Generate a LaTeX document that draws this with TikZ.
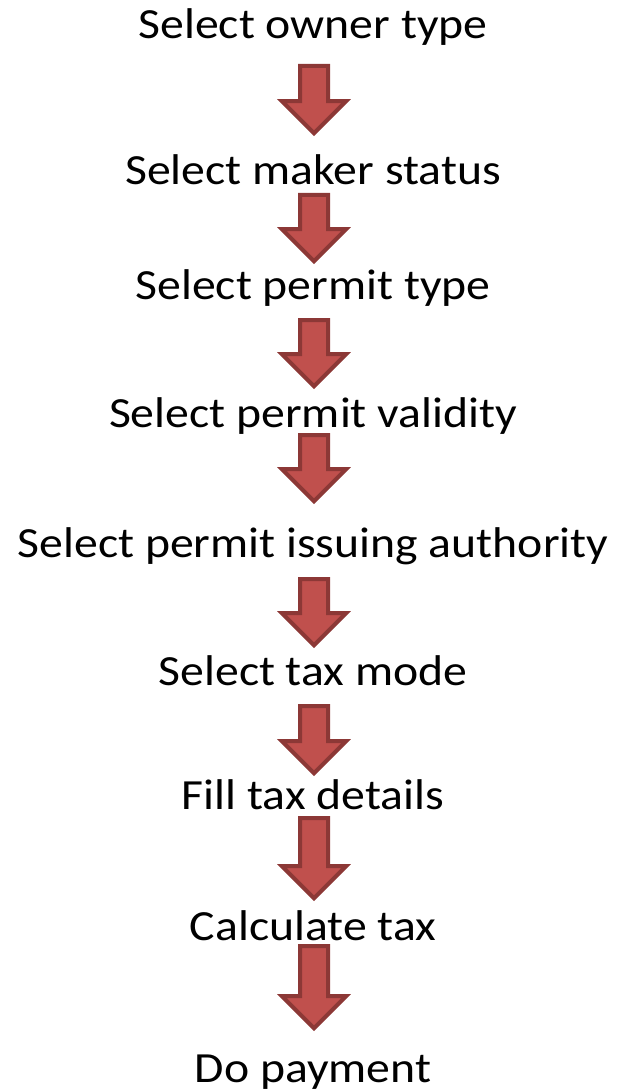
\documentclass[tikz,border=0pt]{standalone}
\usepackage{fontspec}
\setmainfont{Carlito}[FakeStretch=1.11]
\usepackage{xcolor}
\definecolor{arrowfill}{RGB}{192,80,77}
\definecolor{arrowline}{RGB}{140,56,54}

\tikzset{
	steptext/.style={anchor=base, inner sep=0pt, font=\fontsize{43}{50}\selectfont},
	downblock/.style={fill=arrowfill, draw=arrowline, line width=4pt, line join=miter}
}
% block arrow pointing down, from top y to tip y
\newcommand{\downarrowblock}[2]{%
	\draw [downblock] (300,#1+2) -- (328,#1+2) -- (328,#2-34.8) -- (346,#2-34.8) -- (314,#2-2.8) -- (282,#2-34.8) -- (300,#2-34.8) -- cycle;}

\begin{document}
\begin{tikzpicture}[x=1pt, y=-1pt]
	\useasboundingbox (0,0) rectangle (618,1091);
	\node [steptext] (owner)      at (313,39)   {Select owner type};
	\node [steptext] (maker)      at (313,185)  {Select maker status};
	\node [steptext] (permittype) at (313,299)  {Select permit type};
	\node [steptext] (validity)   at (313,427)  {Select permit validity};
	\node [steptext] (authority)  at (313,557)  {Select permit issuing authority};
	\node [steptext] (taxmode)    at (313,685)  {Select tax mode};
	\node [steptext] (taxdetails) at (313,809)  {Fill tax details};
	\node [steptext] (calc)       at (313,940)  {Calculate tax};
	\node [steptext] (payment)    at (313,1082) {Do payment};
	
	\downarrowblock{64}{136}
	\downarrowblock{193}{264}
	\downarrowblock{318}{389}
	\downarrowblock{433}{504}
	\downarrowblock{577}{648}
	\downarrowblock{704}{776}
	\downarrowblock{816}{901}
	\downarrowblock{944}{1031}
\end{tikzpicture}
\end{document}
